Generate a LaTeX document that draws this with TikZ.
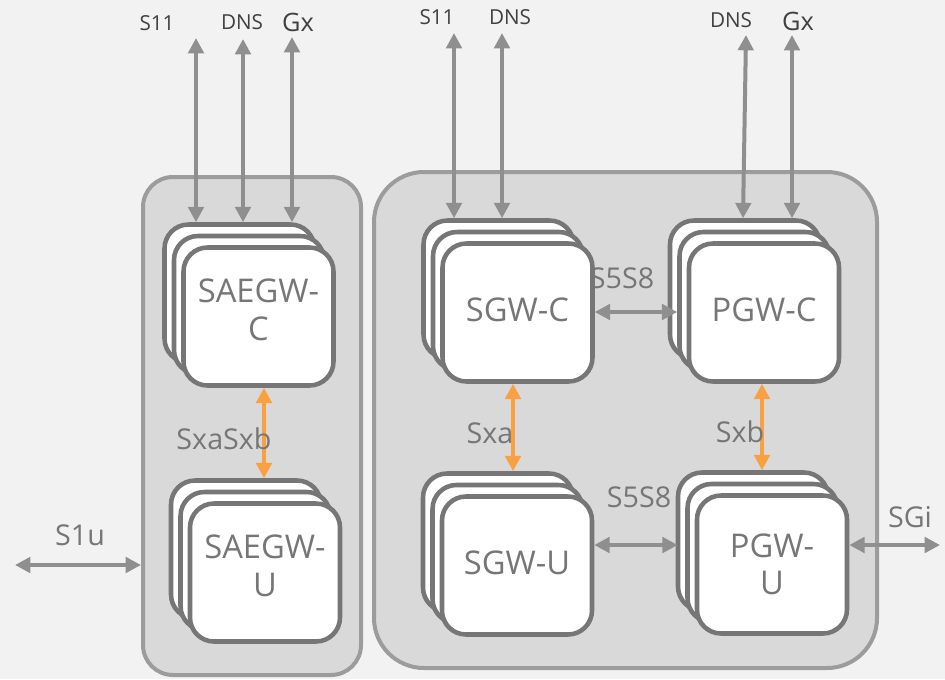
\documentclass[tikz,border=0pt]{standalone}
\usepackage{fontspec}
\setmainfont{Open Sans}
\usetikzlibrary{arrows.meta}
\definecolor{bg}{HTML}{F2F2F2}
\definecolor{cont}{HTML}{D9D9D9}
\definecolor{contline}{HTML}{9C9C9C}
\definecolor{boxline}{HTML}{767676}
\definecolor{txt}{HTML}{767676}
\definecolor{toptxt}{HTML}{404040}
\definecolor{arr}{HTML}{8F8F8F}
\definecolor{sxorange}{HTML}{F9A040}
\newcommand\stackbox[5]{%
  \node[nf] (#1B) at (#2-19,#3-23) {};
  \node[nf] (#1M) at (#2-9.5,#3-11.5) {};
  \node[nf,#5] (#1) at (#2,#3) {#4};
}
\begin{document}
\begin{tikzpicture}[x=0.75pt,y=-0.75pt,
  container/.style={draw=contline, fill=cont, line width=3pt, inner sep=0pt},
  nf/.style={draw=boxline, fill=white, line width=3.4pt, rounded corners=18pt,
    minimum width=112.5pt, minimum height=103.5pt, inner sep=0pt, text=txt,
    font=\fontsize{24.5}{28}\selectfont, align=center},
  garrow/.style={draw=arr, line width=3pt,
    {Triangle[length=11.5pt,width=11.5pt]}-{Triangle[length=11.5pt,width=11.5pt]}},
  oarrow/.style={draw=sxorange, line width=3pt,
    {Triangle[length=11.5pt,width=11.5pt]}-{Triangle[length=11.5pt,width=11.5pt]}},
  toplbl/.style={text=toptxt, font=\fontsize{15.5}{15.5}\selectfont, inner sep=0pt},
  gxlbl/.style={text=toptxt, font=\fontsize{19}{19}\selectfont, inner sep=0pt},
  midlbl/.style={text=txt, font=\fontsize{21.5}{21.5}\selectfont, inner sep=0pt}]
\useasboundingbox (0,0) rectangle (945,679);
\fill[bg] (0,0) rectangle (945,679);

% containers
\node[container, rounded corners=22.5pt, minimum width=163.5pt, minimum height=373.5pt] (lc) at (252,426) {};
\node[container, rounded corners=37.5pt, minimum width=377.25pt, minimum height=372pt] (rc) at (625.5,420) {};

% stacked boxes
\stackbox{saegwc}{258.5}{316.5}{SAEGW-\\C}{text depth=10.5pt}
\stackbox{saegwu}{265}{572.5}{SAEGW-\\U}{text depth=10.5pt}
\stackbox{sgwc}{517.5}{312.5}{SGW-C}{text depth=4.5pt}
\stackbox{pgwc}{764}{312.5}{PGW-C}{text depth=4.5pt}
\stackbox{sgwu}{517}{565.5}{SGW-U}{text depth=4.5pt}
\stackbox{pgwu}{772}{564.5}{PGW-\\U}{}

% free ends
\coordinate (ls11) at (196,38);
\coordinate (ldns) at (243,39);
\coordinate (lgx) at (292,37);
\coordinate (rs11) at (454,33);
\coordinate (rdns) at (502,33);
\coordinate (pdns) at (746,35);
\coordinate (pgx) at (792,35);
\coordinate (s1u) at (15,565);
\coordinate (sgi) at (940,545);

% top arrows
\draw[garrow] (ls11) -- (ls11 |- saegwcB.north);
\draw[garrow] (ldns) -- (ldns |- saegwcB.north);
\draw[garrow] (lgx) -- (lgx |- saegwcB.north);
\draw[garrow] (rs11) -- (rs11 |- sgwcB.north);
\draw[garrow] (rdns) -- (rdns |- sgwcB.north);
\draw[garrow] (pdns) -- ([xshift=-2.25pt]pdns |- pgwcB.north);
\draw[garrow] (pgx) -- (pgx |- pgwcB.north);

% orange
\draw[oarrow] (264,0 |- saegwc.south) -- (264,0 |- saegwuB.north);
\draw[oarrow] (513,0 |- sgwc.south) -- (513,0 |- sgwuB.north);
\draw[oarrow] (762,0 |- pgwc.south) -- (762,0 |- pgwuB.north);

% horizontal
\draw[garrow] (sgwc.east |- 0,312) -- (pgwcM.west |- 0,312);
\draw[garrow] (sgwu.east |- 0,545) -- ([xshift=1.5pt]pgwuB.west |- 0,545);
\draw[garrow] (pgwu.east |- sgi) -- (sgi);
\draw[garrow] (s1u) -- (lc.west |- s1u);

% labels
\node[toplbl] (t1) at (157,23) {S11};
\node[toplbl] (t2) at (242,22) {DNS};
\node[gxlbl] (t3) at (298,22) {Gx};
\node[toplbl] (t4) at (437,17) {S11};
\node[toplbl] (t5) at (510,17) {DNS};
\node[toplbl] (t6) at (731,20) {DNS};
\node[gxlbl] (t7) at (798,21) {Gx};

\node[midlbl] (m1) at (224,439) {SxaSxb};
\node[midlbl] (m2) at (490,433) {Sxa};
\node[midlbl] (m3) at (740,432) {Sxb};
\node[midlbl] (m4) at (622,278) {S5S8};
\node[midlbl] (m5) at (639,497) {S5S8};
\node[midlbl] (m6) at (80,535) {S1u};
\node[midlbl] (m7) at (910,517) {SGi};
\end{tikzpicture}
\end{document}
